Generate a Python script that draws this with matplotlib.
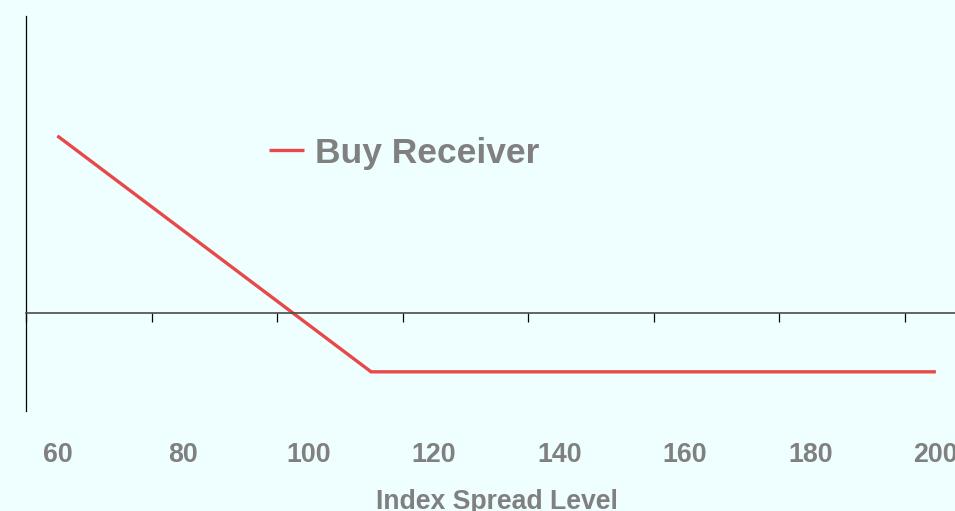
import matplotlib
matplotlib.use("Agg")
import matplotlib.pyplot as plt
from matplotlib.ticker import NullFormatter

# Payoff profile of a bought receiver on the index spread
spread = [60, 110, 200]
payoff = [37.5, -12.5, -12.5]
series_name = "Buy Receiver"

tick_positions = [55, 75, 95, 115, 135, 155, 175, 195]
label_positions = [60, 80, 100, 120, 140, 160, 180, 200]
tick_labels = ["60", "80", "100", "120", "140", "160", "180", "200"]

BG = "#EFFFFF"
RED = "#E84848"
GREY = "#808080"
FONT = "Liberation Sans"

W, H = 955, 511
fig = plt.figure(figsize=(W / 100, H / 100), dpi=100, facecolor=BG)

left_px, right_px, top_px, bottom_px = 26, 967.25, 16, 411
ax = fig.add_axes([left_px / W, 1 - bottom_px / H,
                   (right_px - left_px) / W, (bottom_px - top_px) / H])
ax.set_facecolor(BG)

ax.plot(spread, payoff, color=RED, lw=2.4, solid_capstyle="butt",
        solid_joinstyle="miter", label=series_name)

ax.set_xlim(55, 205)
ax.set_ylim(-20.8, 62.9)

# spines: vertical axis at the left, horizontal axis through zero
ax.spines["top"].set_visible(False)
ax.spines["right"].set_visible(False)
ax.spines["left"].set_color("black")
ax.spines["left"].set_linewidth(0.9)
ax.spines["bottom"].set_position(("data", 0))
ax.spines["bottom"].set_color("#4a4a4a")
ax.spines["bottom"].set_linewidth(1.2)

ax.set_yticks([])
ax.set_xticks(tick_positions)
ax.xaxis.set_major_formatter(NullFormatter())
ax.tick_params(axis="x", direction="out", length=6.5, width=0.9, color="black")

# category-style labels beneath the plot area
sec = ax.secondary_xaxis(location=0)
sec.set_xticks(label_positions)
sec.set_xticklabels(tick_labels)
sec.spines["bottom"].set_visible(False)
sec.tick_params(axis="x", length=0, pad=22.5, labelcolor=GREY)
for lbl in sec.get_xticklabels():
    lbl.set_fontfamily(FONT)
    lbl.set_fontweight("bold")
    lbl.set_fontsize(19.3)
sec.set_xlabel("Index Spread Level", fontfamily=FONT, fontweight="bold",
               fontsize=19.2, color=GREY, labelpad=15)

leg = ax.legend(loc="center left",
                bbox_to_anchor=(251 / W, 1 - 153 / H),
                bbox_transform=fig.transFigure,
                frameon=False, borderpad=0, handlelength=1.0,
                handletextpad=0.3,
                prop={"family": FONT, "weight": "bold", "size": 25.5})
for t in leg.get_texts():
    t.set_color(GREY)

# axis title sitting at the very top edge
fig.text(43 / W, 1 + 5 / H, "Payoff", fontfamily=FONT, fontweight="bold",
         fontsize=17.5, color=GREY, va="baseline", ha="left")

fig.savefig("out.png", dpi=100, facecolor=BG)
